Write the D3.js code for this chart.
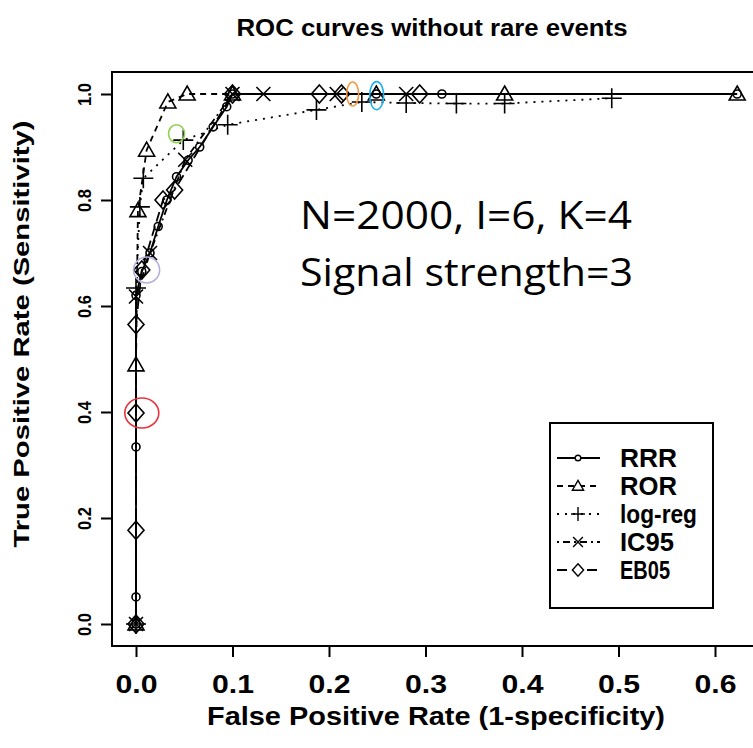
<!DOCTYPE html>
<html><head><meta charset="utf-8">
<script src="https://cdn.jsdelivr.net/npm/d3@7"></script>
<style>body{margin:0;background:#fff}svg{display:block}</style>
</head><body>
<script>
// ---------- data ----------
const xTicks = [0, 0.1, 0.2, 0.3, 0.4, 0.5, 0.6];
const yTicks = [0, 0.2, 0.4, 0.6, 0.8, 1.0];
const xTickLabels = ["0.0","0.1","0.2","0.3","0.4","0.5","0.6"];
const yTickLabels = ["0.0","0.2","0.4","0.6","0.8","1.0"];
const seriesNames = ["RRR","ROR","log-reg","IC95","EB05"];

const rrrFPR = [0, 0, 0, 0, 0.006, 0.0145, 0.023, 0.032, 0.042, 0.054, 0.066, 0.08, 0.094, 0.1, 0.249, 0.317, 0.623];
const rrrTPR = [0, 0.051, 0.334, 0.62, 0.665, 0.70, 0.75, 0.80, 0.844, 0.875, 0.90, 0.938, 0.976, 1.0, 1.0, 1.0, 1.0];

const rorFPR = [0, 0, 0.002, 0.011, 0.033, 0.053, 0.1, 0.249, 0.382, 0.623];
const rorTPR = [0, 0.489, 0.78, 0.894, 0.985, 1.0, 1.0, 1.0, 1.0, 1.0];

const logFPR = [0, 0, 0.004, 0.0076, 0.049, 0.095, 0.187, 0.234, 0.28, 0.332, 0.382, 0.493];
const logTPR = [0, 0.634, 0.787, 0.841, 0.913, 0.942, 0.970, 0.985, 0.983, 0.982, 0.982, 0.992];

const icFPR = [0, 0, 0.0145, 0.051, 0.1, 0.132, 0.208, 0.28];
const icTPR = [0, 0.618, 0.70, 0.876, 1.0, 1.0, 1.0, 1.0];

const ebFPR = [0, 0, 0, 0, 0.006, 0.028, 0.040, 0.1, 0.19, 0.213, 0.294];
const ebTPR = [0, 0.177, 0.398, 0.565, 0.668, 0.80, 0.819, 1.0, 1.0, 1.0, 1.0];

// highlight ellipses (fpr, tpr)
const hlFPR = [0.006, 0.011, 0.042, 0.2245, 0.2494];
const hlTPR = [0.398, 0.668, 0.925, 1.0, 0.997];
const hlColor = ["#e8323c", "#b9aee0", "#92d050", "#f7963d", "#1cb0ee"];

// ---------- layout ----------
const W = 753, H = 748;
const svg = d3.select("body").append("svg").attr("width", W).attr("height", H);
const box = {l:112, t:72, b:646, r:800};
const x = d3.scaleLinear().domain([0, 0.6]).range([136, 715]);
const y = d3.scaleLinear().domain([0, 1]).range([624, 94]);

const boldNarrow = "'Liberation Sans Narrow','Arial Narrow','Liberation Sans',Arial,sans-serif";
const sans = "'Liberation Sans',Arial,Helvetica,sans-serif";

// title
svg.append("text").attr("x", 432).attr("y", 36).attr("text-anchor","middle")
  .attr("font-family", boldNarrow).attr("font-weight","bold").attr("font-size", 23)
  .attr("textLength", 391).attr("lengthAdjust","spacingAndGlyphs")
  .text("ROC curves without rare events");

// plot box
svg.append("rect").attr("x", box.l).attr("y", box.t).attr("width", box.r-box.l).attr("height", box.b-box.t)
  .attr("fill","none").attr("stroke","#000").attr("stroke-width",2);

// x axis
const xAxis = d3.axisBottom(x).tickValues(xTicks).tickSize(11).tickFormat((d,i)=>xTickLabels[i]);
const gx = svg.append("g").attr("transform",`translate(0,${box.b})`).call(xAxis);
gx.select(".domain").remove();
gx.selectAll(".tick line").attr("stroke","#000").attr("stroke-width",2);
gx.selectAll(".tick text").attr("y", 47).attr("dy", null)
  .attr("font-family", boldNarrow).attr("font-weight","bold").attr("font-size", 26).attr("fill","#000")
  .attr("textLength", 42).attr("lengthAdjust","spacingAndGlyphs");

// y axis
const yAxis = d3.axisLeft(y).tickValues(yTicks).tickSize(11).tickFormat((d,i)=>yTickLabels[i]);
const gy = svg.append("g").attr("transform",`translate(${box.l},0)`).call(yAxis);
gy.select(".domain").remove();
gy.selectAll(".tick line").attr("stroke","#000").attr("stroke-width",2);
gy.selectAll(".tick text").attr("x", null).attr("text-anchor","middle")
  .attr("transform","translate(-27,0) rotate(-90)").attr("y", 0).attr("dy","0.35em")
  .attr("font-family", sans).attr("font-weight","bold").attr("font-size", 18).attr("fill","#000")
  .attr("textLength", 23).attr("lengthAdjust","spacingAndGlyphs");

// axis titles
svg.append("text").attr("x", 436).attr("y", 725).attr("text-anchor","middle")
  .attr("font-family", boldNarrow).attr("font-weight","bold").attr("font-size", 26)
  .attr("textLength", 458).attr("lengthAdjust","spacingAndGlyphs")
  .text("False Positive Rate (1-specificity)");
svg.append("text").attr("transform","translate(29,334) rotate(-90)").attr("text-anchor","middle")
  .attr("font-family", sans).attr("font-weight","bold").attr("font-size", 22)
  .attr("textLength", 427).attr("lengthAdjust","spacingAndGlyphs")
  .text("True Positive Rate (Sensitivity)");

// ---------- series ----------
const clipId = "plotclip";
svg.append("clipPath").attr("id", clipId).append("rect")
  .attr("x", box.l+1).attr("y", box.t+1).attr("width", box.r-box.l-2).attr("height", box.b-box.t-2);
const plot = svg.append("g").attr("clip-path", `url(#${clipId})`);

const series = [
  {name: seriesNames[0], fx: rrrFPR, ty: rrrTPR, dash: null, shape: "circle"},
  {name: seriesNames[1], fx: rorFPR, ty: rorTPR, dash: "6,5", shape: "triangle"},
  {name: seriesNames[2], fx: logFPR, ty: logTPR, dash: "2,6", shape: "plus"},
  {name: seriesNames[3], fx: icFPR, ty: icTPR, dash: "2,4,7,4", shape: "cross"},
  {name: seriesNames[4], fx: ebFPR, ty: ebTPR, dash: "10,5", shape: "diamond"}
];

function shapePath(shape){
  switch(shape){
    case "circle": return "M4,0A4,4 0 1,1 -4,0A4,4 0 1,1 4,0Z";
    case "triangle": return "M0,-8L8,6L-8,6Z";
    case "plus": return "M-10,0L10,0M0,-10L0,10";
    case "cross": return "M-7,-7L7,7M-7,7L7,-7";
    case "diamond": return "M0,-9L8,0L0,9L-8,0Z";
  }
}

const line = d3.line().x(d=>x(d[0])).y(d=>y(d[1]));
series.forEach(s=>{
  const pts = s.fx.map((v,i)=>[v, s.ty[i]]);
  plot.append("path").datum(pts).attr("d", line).attr("fill","none")
    .attr("stroke","#000").attr("stroke-width",1.8)
    .attr("stroke-dasharray", s.dash);
  plot.selectAll(null).data(pts).enter().append("path")
    .attr("transform", d=>`translate(${x(d[0])},${y(d[1])})`)
    .attr("d", shapePath(s.shape)).attr("fill","none").attr("stroke","#000").attr("stroke-width",1.6);
});

// highlight ellipses
const hlR = [[17,15],[13,13],[8,9],[6,12],[7,14]];
hlFPR.forEach((v,i)=>{
  plot.append("ellipse").attr("cx", x(v)).attr("cy", y(hlTPR[i]))
    .attr("rx", hlR[i][0]).attr("ry", hlR[i][1])
    .attr("fill","none").attr("stroke", hlColor[i]).attr("stroke-width",1.6);
});

// annotation
svg.append("text").attr("x", 300).attr("y", 229)
  .attr("font-family","'Open Sans','Noto Sans',sans-serif").attr("font-size", 38)
  .attr("textLength", 332).attr("lengthAdjust","spacingAndGlyphs")
  .text("N=2000, I=6, K=4");
svg.append("text").attr("x", 300).attr("y", 286)
  .attr("font-family","'Open Sans','Noto Sans',sans-serif").attr("font-size", 38)
  .attr("textLength", 333).attr("lengthAdjust","spacingAndGlyphs")
  .text("Signal strength=3");

// ---------- legend ----------
const lg = svg.append("g");
lg.append("rect").attr("x",550).attr("y",423).attr("width",163).attr("height",185)
  .attr("fill","#fff").attr("stroke","#000").attr("stroke-width",2);
const legRowY = d3.scalePoint().domain(seriesNames).range([458, 570]);
const legLens = [57, 57, 77, 54, 50];
series.forEach((s,i)=>{
  const yy = legRowY(s.name);
  lg.append("line").attr("x1",557).attr("x2",600).attr("y1",yy).attr("y2",yy)
    .attr("stroke","#000").attr("stroke-width",1.8).attr("stroke-dasharray", s.dash);
  lg.append("path").attr("transform",`translate(578,${yy}) scale(0.7)`).attr("d", shapePath(s.shape))
    .attr("fill","#fff").attr("stroke","#000").attr("stroke-width",2);
  lg.append("text").attr("x",620).attr("y",yy+9)
    .attr("font-family", boldNarrow).attr("font-weight","bold").attr("font-size",26)
    .attr("textLength", legLens[i]).attr("lengthAdjust","spacingAndGlyphs")
    .text(s.name);
});
</script>
</body></html>
